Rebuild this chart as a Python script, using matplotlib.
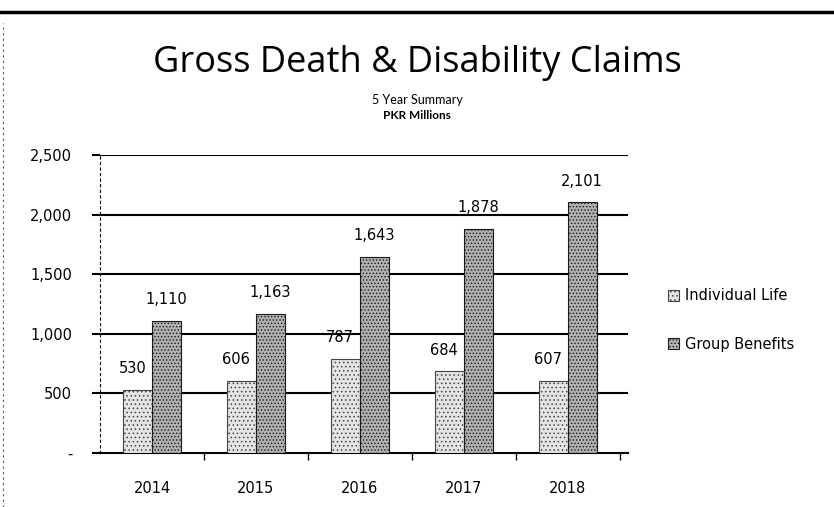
import numpy as np
import matplotlib.pyplot as plt
from matplotlib.lines import Line2D

# 数据
years = ['2014', '2015', '2016', '2017', '2018']
individual_life = [530, 606, 787, 684, 607]
group_benefits = [1110, 1163, 1643, 1878, 2101]
y_ticks = [0, 500, 1000, 1500, 2000, 2500]
y_tick_labels = ['-', '500', '1,000', '1,500', '2,000', '2,500']

plt.rcParams['hatch.linewidth'] = 0.6

fig = plt.figure(figsize=(8.34, 5.07), dpi=100)
ax = fig.add_axes([0.12, 0.1065, 0.633, 0.588])

x = np.arange(len(years))
w = 0.28
bars1 = ax.bar(x - w / 2, individual_life, w, color='#e4e4e4', edgecolor='#444444',
               hatch='....', linewidth=0.8, label='Individual Life', zorder=3)
bars2 = ax.bar(x + w / 2, group_benefits, w, color='#b0b0b0', edgecolor='#1a1a1a',
               hatch='.....', linewidth=0.8, label='Group Benefits', zorder=3)

# 数值标签
for xi, v in zip(x, individual_life):
    ax.annotate('{:,}'.format(v), (xi - w / 2 - 0.05, v), xytext=(0, 10),
                textcoords='offset points', ha='center', va='bottom', fontsize=10.5,
                family='DejaVu Sans')
for xi, v in zip(x, group_benefits):
    ax.annotate('{:,}'.format(v), (xi + w / 2, v), xytext=(0, 10),
                textcoords='offset points', ha='center', va='bottom', fontsize=10.5,
                family='DejaVu Sans')

ax.set_xlim(-0.5, 4.58)
ax.set_ylim(0, 2500)
ax.set_yticks(y_ticks)
ax.set_yticklabels(y_tick_labels, fontsize=10.5, family='DejaVu Sans')
ax.set_xticks(x)
ax.set_xticklabels(years, fontsize=10.5, family='DejaVu Sans')
ax.set_xticks(np.arange(0.5, 4.6, 1.0), minor=True)
ax.tick_params(axis='x', which='major', length=0, pad=20)
ax.tick_params(axis='x', which='minor', length=5, width=1, direction='out')
ax.tick_params(axis='y', length=6, width=1.5, pad=14)

for yv in y_ticks[1:]:
    ax.axhline(yv, color='black', linewidth=1.5, zorder=1)

for s in ['top', 'right']:
    ax.spines[s].set_visible(False)
ax.spines['left'].set_linestyle((0, (2, 3)))
ax.spines['left'].set_linewidth(0.8)
ax.spines['bottom'].set_linewidth(1.5)

leg = ax.legend(loc='center left', bbox_to_anchor=(1.05, 0.446), frameon=False,
                fontsize=10.5, handlelength=0.8, handleheight=0.8,
                handletextpad=0.4, labelspacing=2.3)
for t in leg.get_texts():
    t.set_family('DejaVu Sans')

# 标题
fig.text(0.5, 0.876, 'Gross Death & Disability Claims', ha='center', va='center',
         fontsize=26, family='Open Sans')
fig.text(0.5, 0.803, '5 Year Summary', ha='center', va='center',
         fontsize=9, family='Lato')
fig.text(0.5, 0.773, 'PKR Millions', ha='center', va='center',
         fontsize=8.5, family='Lato', fontweight='bold')

# 扫描边框线
fig.add_artist(Line2D([0, 1], [0.976, 0.976], color='black', linewidth=2.5))
fig.add_artist(Line2D([0.004, 0.004], [0, 0.955], color='#555555', linewidth=0.8,
                      linestyle=(0, (2, 3))))

fig.savefig('out.png', dpi=100)
